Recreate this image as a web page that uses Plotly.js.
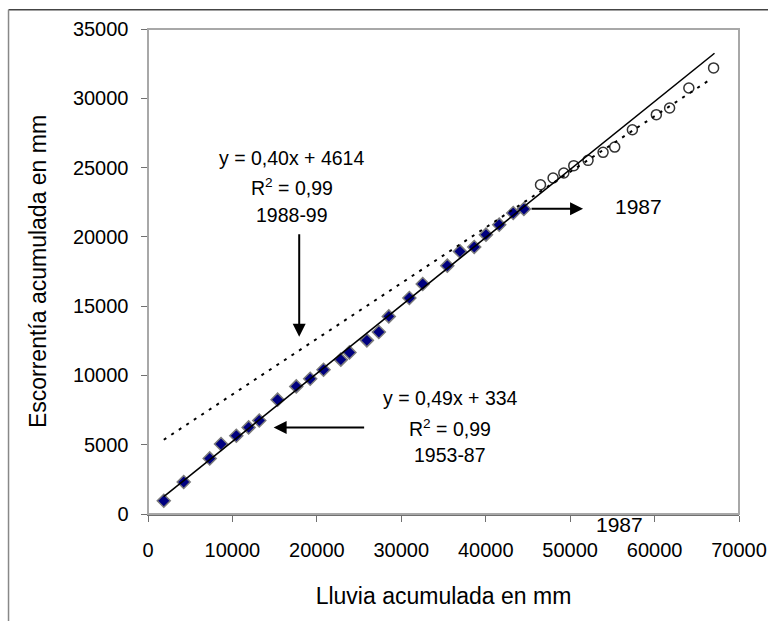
<!DOCTYPE html>
<html>
<head>
<meta charset="utf-8">
<script src="https://cdn.plot.ly/plotly-3.0.1.min.js"></script>
<style>html,body{margin:0;padding:0;background:#fff;}#chart{width:768px;height:621px;}</style>
</head>
<body>
<div id="chart"></div>
<script>
// 1953-87 cumulative values (diamonds)
const rain5387 = [1870, 4230, 7310, 8650, 10460, 11920, 13180, 15350, 17560, 19210, 20790, 22840, 23860, 25920, 27340, 28520, 30960, 32540, 35450, 36950, 38640, 40030, 41600, 43260, 44520];
const runoff5387 = [960, 2310, 4010, 5050, 5650, 6250, 6750, 8250, 9210, 9760, 10410, 11140, 11660, 12530, 13130, 14260, 15590, 16600, 17920, 18950, 19270, 20160, 20880, 21720, 22010];
// 1988-99 cumulative values (open circles)
const rain8899 = [46490, 47980, 49250, 50430, 52120, 53900, 55280, 57370, 60210, 61780, 64060, 66990];
const runoff8899 = [23760, 24250, 24610, 25140, 25520, 26100, 26480, 27730, 28820, 29300, 30740, 32190];
// trend lines (end points)
const trendSolidX = [1870, 67100];
const trendSolidY = [1250, 33250];
const trendDotX = [1870, 66700];
const trendDotY = [5360, 31400];

const font = 'Liberation Sans, Arial, sans-serif';

const traces = [
  {x: rain5387, y: runoff5387, mode: 'markers', type: 'scatter',
   marker: {symbol: 'diamond', size: 10, color: '#000080', line: {color: '#7a7a7a', width: 1.5}}},
  {x: rain8899, y: runoff8899, mode: 'markers', type: 'scatter',
   marker: {symbol: 'circle-open', size: 10, color: '#333333', line: {width: 1.5}}},
  {x: trendSolidX, y: trendSolidY, mode: 'lines', type: 'scatter',
   line: {color: '#000000', width: 1.6}},
  {x: trendDotX, y: trendDotY, mode: 'lines', type: 'scatter',
   line: {color: '#000000', width: 2, dash: '3px,6px'}}
];

function txt(x, y, t, size) {
  return {x: x, y: y, xref: 'x', yref: 'y', text: t, showarrow: false,
          font: {family: font, size: size || 19.5, color: '#000'}, xanchor: 'center', yanchor: 'middle'};
}
function arr(x, y, ax, ay) {
  return {x: x, y: y, xref: 'x', yref: 'y', text: '', showarrow: true, ax: ax, ay: ay,
          arrowhead: 2, arrowsize: 1.3, arrowwidth: 2, arrowcolor: '#000', standoff: 0};
}

const layout = {
  width: 768, height: 621,
  margin: {l: 148, r: 29, t: 29, b: 107},
  paper_bgcolor: '#fff', plot_bgcolor: '#fff',
  showlegend: false,
  font: {family: font, color: '#000'},
  xaxis: {
    range: [0, 70000], dtick: 10000, tick0: 0, tickformat: 'd', showgrid: false, zeroline: false,
    showline: true, linecolor: '#707070', linewidth: 1.5,
    ticks: 'outside', ticklen: 6, tickcolor: '#707070', tickwidth: 1,
    tickfont: {family: font, size: 20, color: '#000'},
    ticklabelstandoff: 11,
    title: {text: 'Lluvia acumulada en mm', font: {family: font, size: 23, color: '#000'}, standoff: 28}
  },
  yaxis: {
    range: [0, 35000], dtick: 5000, tick0: 0, tickformat: 'd', showgrid: false, zeroline: false,
    showline: true, linecolor: '#707070', linewidth: 1.5,
    ticks: 'outside', ticklen: 6, tickcolor: '#707070', tickwidth: 1,
    tickfont: {family: font, size: 20, color: '#000'},
    ticklabelstandoff: 8,
    title: {text: 'Escorrentía acumulada en mm', font: {family: font, size: 23, color: '#000'}, standoff: 20}
  },
  shapes: [
    {type: 'rect', xref: 'paper', yref: 'paper', x0: 0, x1: 1, y0: 0, y1: 1,
     line: {color: '#a8a8a8', width: 2}},
    {type: 'line', xref: 'paper', yref: 'paper', x0: -0.236, x1: 1.06, y0: 1.0398, y1: 1.0398,
     line: {color: '#444444', width: 1.5}},
    {type: 'line', xref: 'paper', yref: 'paper', x0: -0.236, x1: -0.236, y0: 1.0398, y1: -0.23,
     line: {color: '#888888', width: 1.5}}
  ],
  annotations: [
    txt(17050, 25710, 'y = 0,40x + 4614'),
    txt(17050, 23620, 'R<sup>2</sup> = 0,99'),
    txt(17050, 21600, '1988-99'),
    txt(35770, 8390, 'y = 0,49x + 334'),
    txt(35770, 6210, 'R<sup>2</sup> = 0,99'),
    txt(35770, 4280, '1953-87'),
    txt(58090, 22200, '1987', 21),
    {x: 55830, y: -0.0215, xref: 'x', yref: 'paper', text: '1987', showarrow: false,
     font: {family: font, size: 21, color: '#000'}, xanchor: 'center', yanchor: 'middle'},
    arr(17910, 12800, 0, -104),
    arr(14880, 6250, 92, 0),
    arr(51530, 22030, -53, 0)
  ]
};

Plotly.newPlot('chart', traces, layout, {displayModeBar: false, staticPlot: true});
</script>
</body>
</html>
